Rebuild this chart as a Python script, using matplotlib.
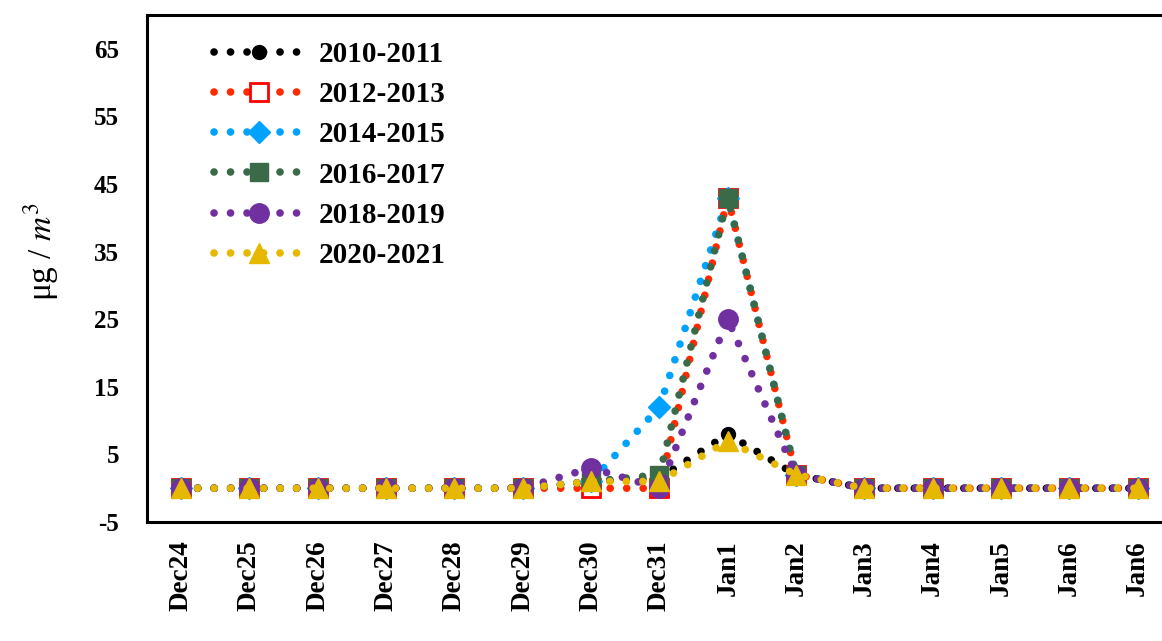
#!/usr/bin/python3
"""
plot.py

Holiday-period concentration (ug/m3) for six winter seasons, Dec24 to Jan6.
Saves the figure as out.png.
"""

import matplotlib
matplotlib.use("Agg")
import matplotlib.pyplot as plt

days = ["Dec24", "Dec25", "Dec26", "Dec27", "Dec28", "Dec29", "Dec30", "Dec31",
        "Jan1", "Jan2", "Jan3", "Jan4", "Jan5", "Jan6", "Jan6"]

s2010 = [0, 0, 0, 0, 0, 0, 1, 1.5, 8, 2, 0, 0, 0, 0, 0]
s2012 = [0, 0, 0, 0, 0, 0, 0, 0, 43, 2, 0, 0, 0, 0, 0]
s2014 = [0, 0, 0, 0, 0, 0, 1, 12, 43, 2, 0, 0, 0, 0, 0]
s2016 = [0, 0, 0, 0, 0, 0, 1, 2, 43, 2, 0, 0, 0, 0, 0]
s2018 = [0, 0, 0, 0, 0, 0, 3, 0, 25, 2, 0, 0, 0, 0, 0]
s2020 = [0, 0, 0, 0, 0, 0, 1, 1, 7, 2, 0, 0, 0, 0, 0]

yticks = [-5, 5, 15, 25, 35, 45, 55, 65]


def draw(output_path):
    plt.rcParams["font.family"] = ["Liberation Serif", "DejaVu Serif"]
    plt.rcParams["mathtext.fontset"] = "stix"

    fig = plt.figure(figsize=(11.62, 6.41), dpi=100)
    # right edge runs past the figure, as in the original crop
    ax = fig.add_axes([0.1265, 0.1856, 0.882, 0.791])

    x = list(range(len(days)))
    series = [
        ("2010-2011", s2010, dict(color="black", marker="o", ms=10)),
        ("2012-2013", s2012, dict(color="#FF2A00", marker="s", ms=13,
                                  mfc="white", mec="#FF0000", mew=2)),
        ("2014-2015", s2014, dict(color="#00A2FF", marker="D", ms=11)),
        ("2016-2017", s2016, dict(color="#3A6A48", marker="s", ms=13)),
        ("2018-2019", s2018, dict(color="#7030A0", marker="o", ms=14)),
        ("2020-2021", s2020, dict(color="#E6B800", marker="^", ms=15)),
    ]
    for label, vals, style in series:
        ax.plot(x, vals, label=label, lw=5.5, linestyle=(0, (0.01, 2.15)),
                dash_capstyle="round", **style)

    ax.set_xlim(-0.5, len(days) - 0.5)
    ax.set_ylim(-5, 70)
    ax.set_yticks(yticks)
    ax.set_xticks(x)
    ax.set_xticklabels(days, rotation=90, fontsize=19.5, fontweight="bold")
    ax.set_yticklabels([str(v) for v in yticks], fontsize=18, fontweight="bold")
    ax.tick_params(axis="both", length=0)
    ax.tick_params(axis="x", pad=13)
    ax.tick_params(axis="y", pad=20)

    for sp in ax.spines.values():
        sp.set_linewidth(2.2)

    ax.set_ylabel(r"μg / $m^3$", fontsize=24)
    ax.yaxis.set_label_coords(-0.084, 0.533)

    ax.legend(loc="upper left", bbox_to_anchor=(0.04, 1.0), frameon=False,
              numpoints=1, handlelength=3.1, handletextpad=0.5,
              labelspacing=0.45, prop=dict(size=21, weight="bold"))

    fig.savefig(output_path)
    plt.close(fig)


if __name__ == "__main__":
    draw("out.png")
